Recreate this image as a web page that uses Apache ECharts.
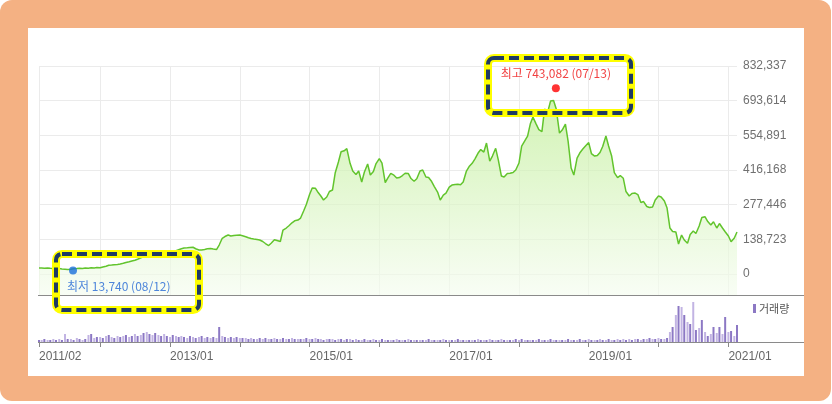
<!DOCTYPE html>
<html><head><meta charset="utf-8">
<script src="https://cdn.jsdelivr.net/npm/echarts@6/dist/echarts.min.js"></script>
<style>
html,body{margin:0;padding:0;background:#fff;}
#frame{position:absolute;left:0;top:0;width:831px;height:401px;background:#F4B183;border-radius:12px;}
#panel{position:absolute;left:28px;top:28px;width:776px;height:348px;background:#fff;}
#chart{position:absolute;left:0;top:0;width:832px;height:404px;}
</style></head><body>
<div id="frame"></div><div id="panel"></div><div id="chart"></div>
<script>
// ---- data ----
const seriesStart = '2011-02-15';   // semi-monthly points: 15th, 1st, 15th, ...
const seriesEnd = '2021-02-15';
// closing price (thousands)
const priceK = [
  24,24,23,24,23,22,23,22,20,19,
  18,19,21,22,23,22,24,23,25,24,
  26,25,28,31,35,36,37,38,40,43,
  46,49,52,55,59,65,69,70,71,73,
  74,75,76,77,80,84,89,93,97,101,
  104,105,106,107,101,96,96,98,101,102,
  100,98,116,143,150,156,152,154,155,156,
  153,149,145,142,140,138,136,130,122,114,
  124,137,134,130,176,184,193,205,213,216,
  224,252,278,318,344,343,326,312,296,308,
  330,336,404,448,489,493,502,443,412,398,
  412,368,408,440,396,410,442,462,444,366,
  385,403,397,384,386,394,403,402,382,371,
  381,412,416,388,386,370,350,328,296,316,
  324,348,356,358,359,357,368,412,430,443,
  460,484,498,488,524,452,472,503,456,392,
  388,402,403,406,416,444,512,534,552,600,
  628,600,578,570,660,650,692,694,660,564,
  576,600,532,424,396,464,484,500,512,526,
  482,472,474,486,510,552,512,472,406,386,
  394,383,330,312,322,324,318,286,290,270,
  266,268,296,312,308,292,264,184,170,168,
  120,156,136,123,158,172,162,192,226,229,
  210,196,209,184,202,184,169,152,129,144,
  168
];
// trading volume (relative units)
const volume = [
  2,2,3,2,2,3,2,3,2,8,
  3,3,2,4,3,2,3,7,8,4,
  5,5,4,6,7,5,4,6,5,6,
  7,5,6,8,6,7,9,10,8,7,
  9,7,6,8,6,5,7,6,5,6,
  5,4,6,5,4,5,6,4,5,4,
  5,4,15,6,5,4,5,4,5,4,
  4,4,3,4,3,3,4,3,4,3,
  3,4,3,3,4,3,3,4,3,3,
  3,3,4,3,3,4,3,3,2,3,
  3,3,2,3,3,2,3,3,2,3,
  2,2,3,2,2,3,2,2,3,2,
  2,2,2,3,2,2,2,3,2,2,
  2,2,2,2,3,2,2,2,2,3,
  2,2,2,2,3,2,2,2,2,2,
  2,3,2,2,2,3,2,2,2,3,
  2,2,2,2,3,2,3,2,2,2,
  2,2,3,2,2,2,3,2,2,2,
  2,2,3,2,2,2,3,2,2,3,
  2,2,2,3,2,2,3,2,2,3,
  2,3,2,3,2,3,3,2,3,3,
  4,3,3,4,3,3,4,10,15,27,
  36,35,27,20,18,40,12,14,22,10,
  6,8,15,9,15,8,25,10,11,6,
  17
];
const yTickValues = [0,138723,277446,416168,554891,693614,832337];
const xGridDates = ['2011-02-15','2012-01-01','2013-01-01','2014-01-01','2015-01-01','2016-01-01','2017-01-01','2018-01-01','2019-01-01','2020-01-01','2021-01-01'];
const xLabelDates = ['2011-02-15','2013-01-01','2015-01-01','2017-01-01','2019-01-01','2021-01-01'];
const xTickLabels = ['2011/02','2013/01','2015/01','2017/01','2019/01','2021/01'];
const highPoint = { date: '2018-07-13', value: 743082, text: '최고 743,082 (07/13)' };
const lowPoint  = { date: '2011-08-12', value: 13740,  text: '최저 13,740 (08/12)' };
const volumeName = '거래량';

// ---- helpers ----
function ts(s){ const p = s.split('-').map(Number); return new Date(p[0], p[1]-1, p[2]).getTime(); }
function pointDate(i){
  const p = seriesStart.split('-').map(Number);
  const mOff = Math.ceil(i/2);
  const day = (i % 2 === 0) ? 15 : 1;
  return new Date(p[0], p[1]-1 + mOff, day).getTime();
}
const priceData = priceK.map((v,i)=>[pointDate(i), v*1000]);
const volData = volume.map((v,i)=>[pointDate(i), v]);
const xGridTs = xGridDates.map(ts);
const xLabelTs = xLabelDates.map(ts);
const FONT = "'Liberation Sans', Arial, 'Noto Sans CJK KR', sans-serif";
const KFONT = "'Noto Sans CJK KR', 'Liberation Sans', sans-serif";

const chart = echarts.init(document.getElementById('chart'), null, {renderer:'canvas'});
const option = {
  backgroundColor: 'transparent',
  animation: false,
  grid: [
    { left: 39, top: 66, width: 698, height: 229 },
    { left: 39, top: 300, width: 698, height: 42 }
  ],
  xAxis: [
    { type: 'value', gridIndex: 0, min: ts(seriesStart), max: ts(seriesEnd),
      axisLine: {show:false}, axisTick: {show:false, customValues: xGridTs},
      axisLabel: {show:false},
      splitLine: {show:true, lineStyle:{color:'#ebebeb', width:1}} },
    { type: 'value', gridIndex: 1, min: ts(seriesStart), max: ts(seriesEnd),
      axisLine: {show:false},
      axisTick: {show:true, customValues: xGridTs, length:5, lineStyle:{color:'#888'}},
      splitLine: {show:false},
      axisLabel: {show:true, customValues: xLabelTs, margin: 9, align:'left',
        color:'#666', fontSize:12, fontFamily: FONT,
        formatter: function(v){ const k = xLabelTs.indexOf(v); return k>=0 ? xTickLabels[k] : ''; } } }
  ],
  yAxis: [
    { type: 'value', gridIndex: 0, position: 'right', min: -84000, max: yTickValues[yTickValues.length-1],
      axisLine:{show:false}, axisTick:{show:false, customValues: yTickValues},
      splitLine:{show:true, lineStyle:{color:'#ebebeb', width:1}},
      axisLabel:{show:true, customValues: yTickValues, margin: 6, color:'#707070', fontSize:12, fontFamily: FONT,
        formatter: function(v){ return Number(v).toLocaleString('en-US'); } } },
    { type: 'value', gridIndex: 1, min: 0, max: 42, show: false }
  ],
  legend: {
    left: 753, top: 303, padding: 0, icon: 'rect', itemWidth: 3, itemHeight: 9, itemGap: 4,
    textStyle: {color:'#555', fontSize: 11, fontFamily: KFONT, padding:[0,0,0,-2]},
    data: [{ name: volumeName, itemStyle: {color:'#8c78c4'} }]
  },
  series: [
    { type: 'line', xAxisIndex: 0, yAxisIndex: 0, data: priceData, symbol: 'none',
      lineStyle: {color:'#62c42d', width:1.5},
      areaStyle: {origin:'start', color: new echarts.graphic.LinearGradient(0,0,0,1,[
        {offset:0, color:'#bfed96'}, {offset:1, color:'#f5fcf0'}])},
      z: 2 },
    { type: 'bar', name: volumeName, xAxisIndex: 1, yAxisIndex: 1, data: volData, barWidth: 2,
      itemStyle: { color: function(p){ return p.dataIndex % 2 ? '#c2b4e3' : '#8c78c4'; } } },
    { type: 'scatter', xAxisIndex: 0, yAxisIndex: 0, symbolSize: 8, z: 10,
      data: [
        { value: [ts(highPoint.date), highPoint.value], itemStyle:{color:'#ff0000'},
          label:{show:true, position:'top', distance:5, formatter: highPoint.text, color:'#ee1111', fontSize:12, fontFamily:KFONT} },
        { value: [ts(lowPoint.date), lowPoint.value], itemStyle:{color:'#1a6fdc'},
          label:{show:true, position:'bottom', distance:6, align:'left', offset:[-6,0], formatter: lowPoint.text, color:'#2368d4', fontSize:12, fontFamily:KFONT} }
      ] }
  ],
  graphic: [
    { type:'line', z: 50, shape:{x1:38, y1:295.5, x2:804, y2:295.5}, style:{stroke:'#8a8a8a', lineWidth:1.2} },
    { type:'line', z: 50, shape:{x1:38, y1:342.5, x2:804, y2:342.5}, style:{stroke:'#8a8a8a', lineWidth:1.2} },
    { type:'rect', z: 60, shape:{x:488, y:58, width:143, height:55, r:6}, style:{fill:null, stroke:'#ffff00', lineWidth:8} },
    { type:'rect', z: 61, shape:{x:488, y:58, width:143, height:55, r:6}, style:{fill:null, stroke:'#1f3b63', lineWidth:4, lineDash:[10,5]} },
    { type:'rect', z: 60, shape:{x:56, y:254, width:143, height:56, r:6}, style:{fill:null, stroke:'#ffff00', lineWidth:8} },
    { type:'rect', z: 61, shape:{x:56, y:254, width:143, height:56, r:6}, style:{fill:null, stroke:'#1f3b63', lineWidth:4, lineDash:[10,5]} }
  ]
};
chart.setOption(option);
</script>
</body></html>
